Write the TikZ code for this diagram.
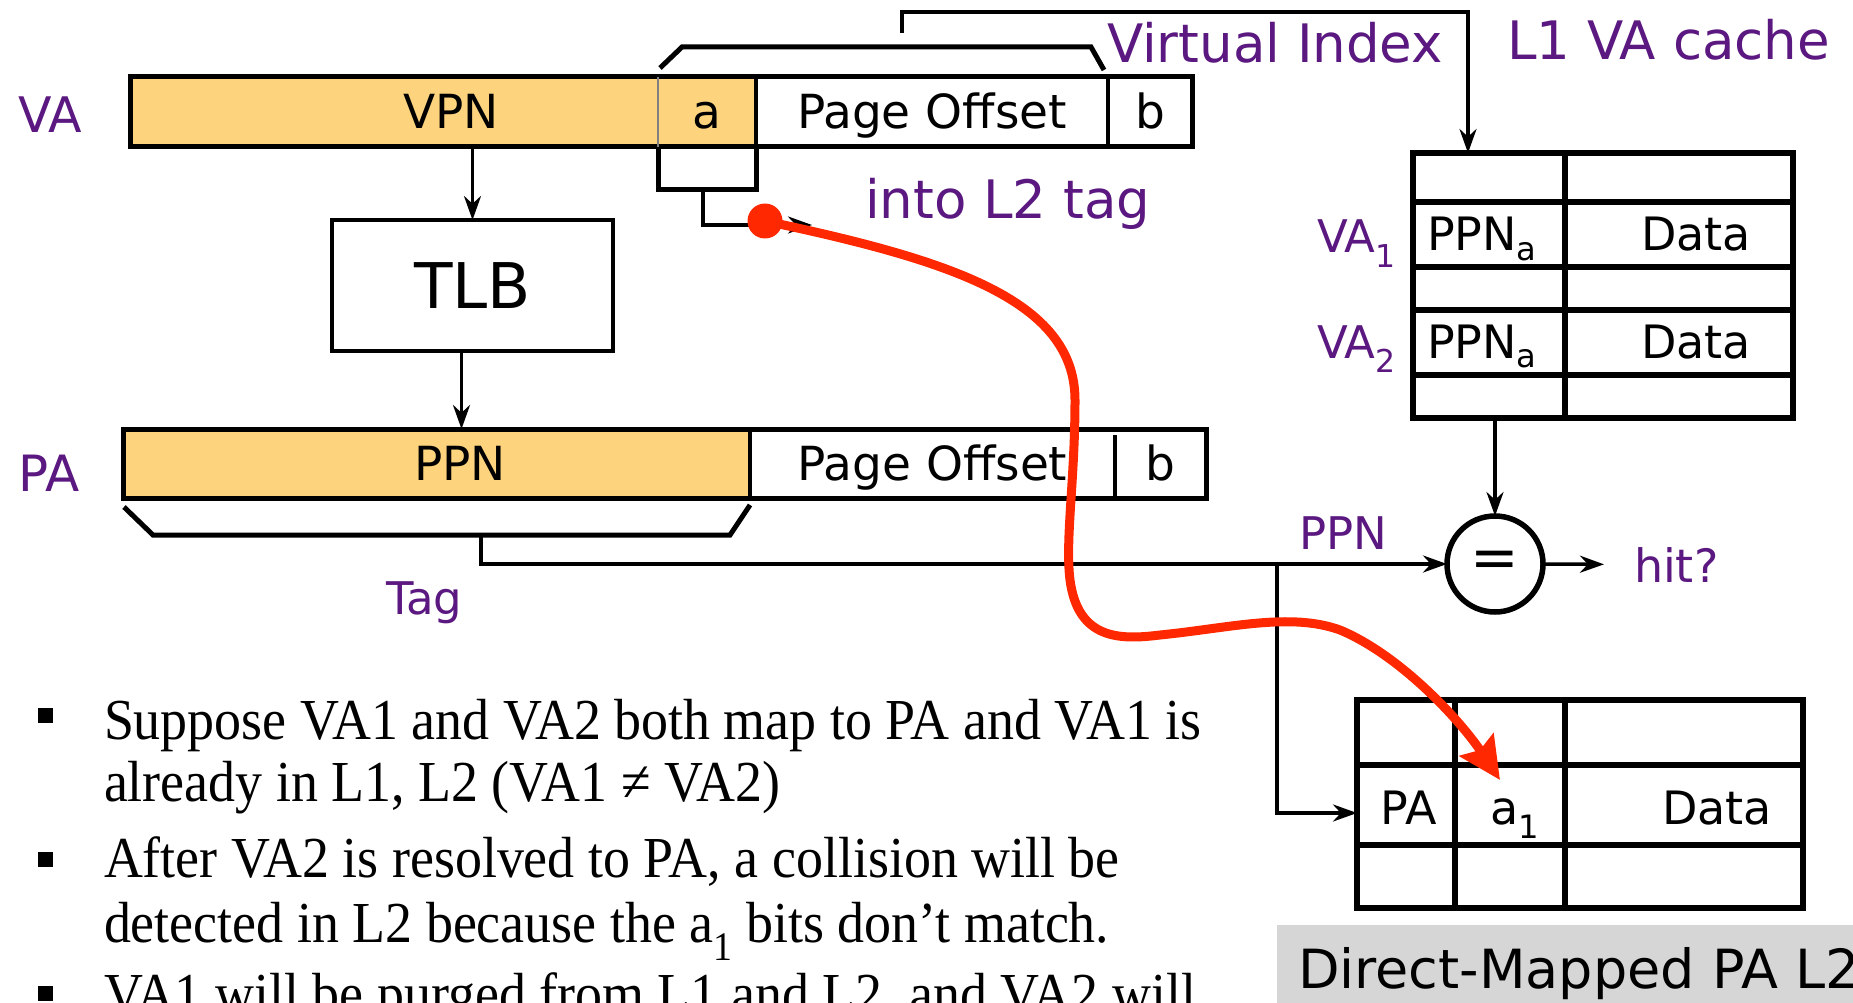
\documentclass[tikz,border=0pt]{standalone}
\usepackage{fontspec}
\setmainfont[FakeStretch=0.93]{Liberation Serif}
\setsansfont{DejaVu Sans}
\usetikzlibrary{arrows.meta,positioning}

\definecolor{vapurple}{RGB}{90,24,128}
\definecolor{pnorange}{RGB}{253,212,125}
\definecolor{hotred}{RGB}{255,40,0}
\definecolor{capgray}{RGB}{214,214,214}
\newcommand{\fsz}[1]{\fontsize{#1}{#1}\selectfont}

\begin{document}
\begin{tikzpicture}[x=1pt,y=-1pt,->,>={Stealth[length=24pt,width=17pt]},line width=3.5pt]
\tikzstyle{every node}=[inner sep=0pt,outer sep=0pt]
\tikzstyle{field}=[font={\sffamily\fsz{47}},text height=34pt,text depth=0pt]
\tikzstyle{lbl}=[text=vapurple,anchor=base west,font={\sffamily\fsz{53}}]
\tikzstyle{cell}=[anchor=base,font={\sffamily\fsz{46}}]
\tikzstyle{txt}=[anchor=base west,font={\rmfamily\fsz{58}}]
\tikzstyle{sq}=[fill=black,minimum size=15pt]
\tikzstyle{frame}=[-,line width=5pt]
\tikzstyle{grid}=[-,line width=5.5pt]
\useasboundingbox (0,0) rectangle (1853,1003);

\node[field,fill=pnorange,minimum width=528pt,minimum height=70pt,anchor=north west] (vpn) at (130,77) {};
\node[field,fill=pnorange,minimum width=98pt,minimum height=70pt,right=0pt of vpn] (vaa) {a};
\node[field,minimum width=352pt,minimum height=70pt,right=0pt of vaa] (vapo) {Page Offset};
\node[field,minimum width=84pt,minimum height=70pt,right=0pt of vapo] (vab) {b};
\node[field] (vpntxt) at (451,112) {VPN};
\draw[frame] (vpn.north west) rectangle (vab.south east);
\draw[-,gray,line width=2pt] (vaa.north west) -- (vaa.south west);
\draw[-,line width=4.5pt] (vapo.north west) -- (vapo.south west) (vab.north west) -- (vab.south west);

\node[field,fill=pnorange,minimum width=627pt,minimum height=69pt,anchor=north west] (ppn) at (123,429) {};
\node[field,minimum width=365pt,minimum height=69pt,right=0pt of ppn] (papo) {Page Offset};
\node[field,minimum width=91pt,minimum height=69pt,right=0pt of papo] (pab) {b};
\node[field] (ppntxt) at (460,463.5) {PPN};
\draw[frame] (ppn.north west) rectangle (pab.south east);
\draw[-] (papo.north west) -- (papo.south west);
\draw[-] ([yshift=-6pt]pab.north west) -- (pab.south west);

\node[lbl,font={\sffamily\fsz{49}}] (valbl) at (18,133) {VA};
\node[lbl,font={\sffamily\fsz{50}}] (palbl) at (18,491) {PA};
\node[lbl] (vidx) at (1107,63) {Virtual Index};
\node[lbl] (l1lbl) at (1507,60) {L1 VA cache};
\node[lbl] (intol2) at (865,219) {into L2 tag};
\node[lbl,font={\sffamily\fsz{45}}] (taglbl) at (386,614) {Tag};
\node[lbl,font={\sffamily\fsz{45}}] (ppnlbl) at (1299,549) {PPN};

\node[draw,line width=4.5pt,minimum width=281pt,minimum height=131pt,font={\sffamily\fsz{63}},text height=46pt,text depth=0pt] (tlb) at (472.5,285.5) {TLB};

\draw[frame] (660,68) -- (682,47) -- (1091,47) -- (1104,70);
\draw[frame] (124,507) -- (153,535) -- (730,535) -- (750,505);
\draw[frame] (vaa.south west) -- ++(0,43) -| (vaa.south east);

\node[draw,line width=5.5pt,minimum width=380pt,minimum height=265pt] (l1) at (1603,285.5) {};
\foreach \y in {202,267,310,375}
  \draw[grid] (1413,\y) -- (1793,\y);
\draw[grid] (1565,153) -- (1565,418);
\node[cell,anchor=base west] (ppna1) at (1427,251) {PPN\textsubscript{a}};
\node[cell,anchor=base west] (ppna2) at (1427,358) {PPN\textsubscript{a}};
\node[cell] (data1) at (1696,251) {Data};
\node[cell] (data2) at (1696,358) {Data};
\node[lbl,font={\sffamily\fsz{45}}] (va1) at (1317,253) {VA\textsubscript{1}};
\node[lbl,font={\sffamily\fsz{45}}] (va2) at (1317,358) {VA\textsubscript{2}};

\node[draw,line width=5.5pt,minimum width=446pt,minimum height=208pt] (l2) at (1580,804) {};
\foreach \y in {765,845}
  \draw[grid] (1357,\y) -- (1803,\y);
\draw[grid] (1455,700) -- (1455,908) (1565,700) -- (1565,908);
\node[cell] (l2pa) at (1409,824) {PA};
\node[cell] (l2a) at (1515,824) {a\textsubscript{1}};
\node[cell] (l2data) at (1717,824) {Data};

\node[circle,draw,line width=5.5pt,minimum size=96pt,font={\sffamily\fsz{58}}] (cmp) at (1495,564) {=};
\node[lbl,font={\sffamily\fsz{46}}] (hit) at (1634,582) {hit?};

\coordinate (vistub) at (902,33);
\coordinate (l1in) at ([xshift=-135pt]l1.north);
\coordinate (abrk) at (703,189);
\coordinate (l2tag) at (812,225);
\coordinate (tagstub) at (481,535);
\coordinate (ppnsplit) at (1277,564);
\coordinate (a1hit) at (1500,780);

\draw (vistub) -- ++(0,-21) -| (l1in);
\draw (tlb.north |- vpn.south) -- (tlb.north);
\draw ([xshift=-11pt]tlb.south) -- ([xshift=-11pt]tlb.south |- ppn.north);
\draw (abrk) |- (l2tag);
\draw (tagstub) |- (cmp.west);
\draw (ppnsplit) |- ([yshift=-9pt]l2.west);
\draw (cmp.north |- l1.south) -- (cmp.north);
\draw[shorten >=30pt] (cmp.east) -- (hit.west);

\node[circle,fill=hotred,minimum size=35pt] (rdot) at (765,221) {};
\draw[hotred,line width=9pt,-{Stealth[length=42pt,width=40pt,inset=6pt]}] (rdot.center)
  .. controls (950,260) and (1075,300) .. (1075,400)
  .. controls (1075,480) and (1065,540) .. (1070,580)
  .. controls (1078,640) and (1120,640) .. (1160,635)
  .. controls (1230,628) and (1290,612) .. (1340,630)
  .. controls (1400,655) and (1460,720) .. (a1hit);

\node[sq] (sq1) at (45,715) {};
\node[sq] (sq2) at (45,859) {};
\node[sq] (sq3) at (45,993) {};
\node[txt] (t1a) at (104,739) {Suppose VA1 and VA2 both map to PA and VA1 is};
\node[txt] (t1b) at (104,801) {already in L1, L2 (VA1 ≠ VA2)};
\node[txt] (t2a) at (104,877) {After VA2 is resolved to PA, a collision will be};
\node[txt] (t2b) at (104,942) {detected in L2 because the a\textsubscript{1} bits don’t match.};
\node[txt] (t3a) at (104,1013) {VA1 will be purged from L1 and L2, and VA2 will};

\fill[capgray] (1277,925) rectangle (1853,1003);
\node[anchor=base west,font={\sffamily\fsz{54}}] (l2cap) at (1298,988) {Direct-Mapped PA L2};
\end{tikzpicture}
\end{document}
